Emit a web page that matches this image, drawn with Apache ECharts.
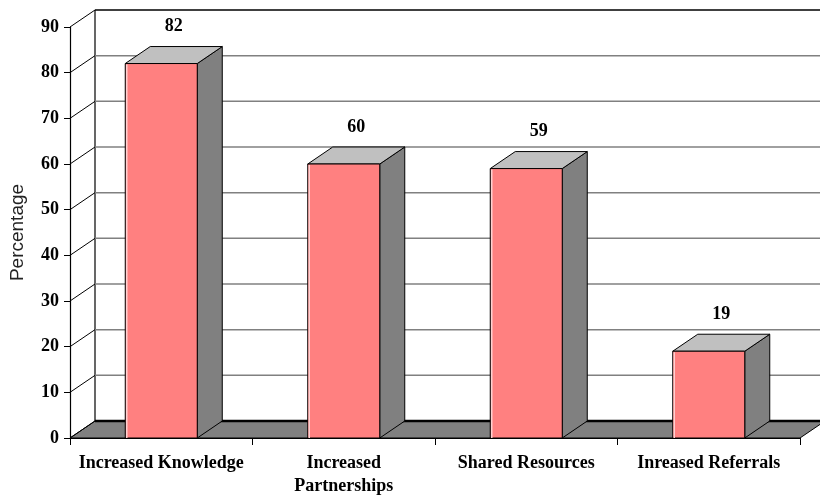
<!DOCTYPE html>
<html>
<head>
<meta charset="utf-8">
<script src="https://cdn.jsdelivr.net/npm/echarts@6/dist/echarts.min.js"></script>
<style>
  html, body { margin: 0; padding: 0; background: #fff; }
  #chart { width: 820px; height: 496px; }
</style>
</head>
<body>
<div id="chart"></div>
<script>
// Survey outcomes (percentage of respondents)
const categories = ['Increased Knowledge', 'Increased\nPartnerships', 'Shared Resources', 'Inreased Referrals'];
const values = [82, 60, 59, 19];
const yTicks = [0, 10, 20, 30, 40, 50, 60, 70, 80, 90];

// Depth of the pseudo-3D box (pixels)
const DX = 25, DY = -17;
const BAR_W = 72;
const SERIF = '"Liberation Serif", "Times New Roman", serif';

const chart = echarts.init(document.getElementById('chart'), null, { renderer: 'canvas' });

function renderWall(params, api) {
  const cs = params.coordSys;
  const v = api.value(1);
  const y = api.coord([0, v])[1];
  const x0 = cs.x, x1 = cs.x + cs.width;
  const children = [];
  if (v === 0) {
    // floor slab
    children.push({
      type: 'polygon',
      shape: { points: [[x0, y], [x1, y], [x1 + DX, y + DY], [x0 + DX, y + DY]] },
      style: { fill: '#808080', stroke: '#000', lineWidth: 1 }
    });
    children.push({
      type: 'line',
      shape: { x1: x0 + DX, y1: y + DY, x2: x1 + DX + 30, y2: y + DY },
      style: { stroke: '#000', lineWidth: 2.5 }
    });
    // left edge of the back wall
    const yTop = api.coord([0, yTicks[yTicks.length - 1]])[1];
    children.push({
      type: 'line',
      shape: { x1: x0 + DX, y1: y + DY, x2: x0 + DX, y2: yTop + DY },
      style: { stroke: '#000', lineWidth: 1.2 }
    });
  } else {
    const isTop = v === yTicks[yTicks.length - 1];
    children.push({
      type: 'line',
      shape: { x1: x0 + DX, y1: y + DY, x2: x1 + DX + 30, y2: y + DY },
      style: { stroke: isTop ? '#000' : '#808080', lineWidth: 1.5 }
    });
  }
  // connector from the front axis to the back wall
  children.push({
    type: 'line',
    shape: { x1: x0, y1: y, x2: x0 + DX, y2: y + DY },
    style: { stroke: '#000', lineWidth: 1 }
  });
  return { type: 'group', children: children };
}

function renderBar(params, api) {
  const idx = api.value(0);
  const val = api.value(1);
  const base = api.coord([idx, 0]);
  const top = api.coord([idx, val]);
  const l = base[0] - BAR_W / 2, r = base[0] + BAR_W / 2;
  const t = top[1], b = base[1];
  return {
    type: 'group',
    children: [
      {
        type: 'polygon',
        shape: { points: [[r, t], [r + DX, t + DY], [r + DX, b + DY], [r, b]] },
        style: { fill: '#808080', stroke: '#000', lineWidth: 1 }
      },
      {
        type: 'polygon',
        shape: { points: [[l, t], [r, t], [r + DX, t + DY], [l + DX, t + DY]] },
        style: { fill: '#c0c0c0', stroke: '#000', lineWidth: 1 }
      },
      {
        type: 'rect',
        shape: { x: l, y: t, width: BAR_W, height: b - t },
        style: { fill: '#ff8080', stroke: '#000', lineWidth: 1 }
      },
      {
        type: 'line',
        shape: { x1: l + 1.5, y1: t + 1, x2: l + 1.5, y2: b },
        style: { stroke: '#ffd0d0', lineWidth: 1.5 }
      },
      {
        type: 'text',
        x: base[0] + DX / 2,
        y: t - 37,
        style: {
          text: String(val),
          fill: '#000',
          font: 'bold 18px ' + SERIF,
          textAlign: 'center',
          textVerticalAlign: 'middle'
        }
      }
    ]
  };
}

chart.setOption({
  animation: false,
  backgroundColor: '#fff',
  grid: { left: 70, right: 20, top: 27, bottom: 58, containLabel: false, outerBoundsMode: 'none' },
  xAxis: {
    type: 'category',
    data: categories,
    boundaryGap: true,
    axisLine: { show: true, lineStyle: { color: '#000', width: 1 } },
    axisTick: { show: true, alignWithLabel: false, length: 7, lineStyle: { color: '#000', width: 1 } },
    axisLabel: {
      color: '#000',
      fontFamily: SERIF,
      fontWeight: 'bold',
      fontSize: 18,
      lineHeight: 23,
      margin: 14,
      interval: 0,
      hideOverlap: false
    },
    splitLine: { show: false }
  },
  yAxis: {
    type: 'value',
    min: 0,
    max: 90,
    interval: 10,
    name: 'Percentage',
    nameLocation: 'middle',
    nameGap: 43,
    nameTextStyle: { color: '#222', fontFamily: '"Liberation Sans", Arial, sans-serif', fontSize: 19 },
    axisLine: { show: true, lineStyle: { color: '#000', width: 1.2 } },
    axisTick: { show: true, length: 6, lineStyle: { color: '#000' } },
    axisLabel: {
      color: '#000',
      fontFamily: SERIF,
      fontWeight: 'bold',
      fontSize: 18,
      margin: 11
    },
    splitLine: { show: false }
  },
  series: [
    {
      type: 'custom',
      name: 'wall',
      z: 1,
      silent: true,
      renderItem: renderWall,
      encode: { x: 0, y: 1 },
      data: yTicks.map(v => [0, v])
    },
    {
      type: 'custom',
      name: 'Percentage',
      z: 3,
      renderItem: renderBar,
      encode: { x: 0, y: 1 },
      data: values.map((v, i) => [i, v])
    }
  ]
});
</script>
</body>
</html>
